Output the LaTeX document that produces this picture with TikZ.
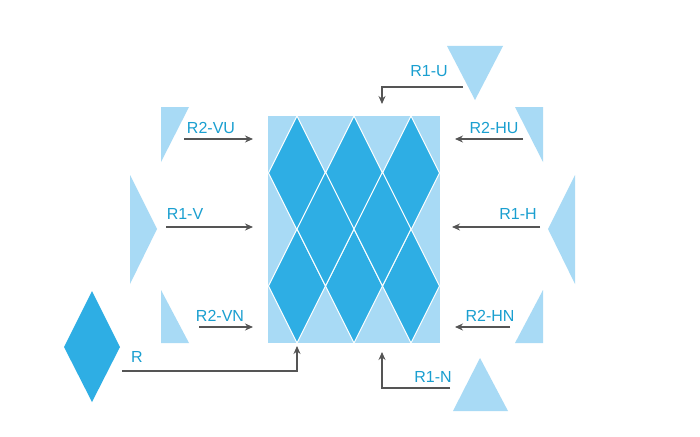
\documentclass[tikz,border=0pt]{standalone}
\usepackage{fontspec}
\setmainfont{Liberation Sans}
\usetikzlibrary{arrows.meta}
\definecolor{dk}{HTML}{2EAEE4}
\definecolor{lt}{HTML}{A8DAF5}
\definecolor{tx}{HTML}{1A9FD0}
\definecolor{ar}{HTML}{555555}
\begin{document}
\begin{tikzpicture}[x=1pt,y=-1pt,
  lbl/.style={text=tx,font=\fontsize{16}{18}\selectfont,inner sep=0pt},
  arr/.style={draw=ar,line width=1.1pt,-{Stealth[length=8pt,width=7pt]}},
  dia/.style={fill=dk,draw=white,line width=1pt}]
\useasboundingbox (0,0) rectangle (700,436);
\fill[white] (0,0) rectangle (700,436);
% central block
\fill[lt] (268,116) rectangle (440,343);
\coordinate (blk) at (354,229);
\foreach \cx in {297,354,411}{
  \foreach \cy in {173,286}{
    \draw[dia] (\cx,\cy-57) -- (\cx+28.5,\cy) -- (\cx,\cy+57) -- (\cx-28.5,\cy) -- cycle;}}
\foreach \cx in {325.5,382.5}{
  \draw[dia] (\cx,172) -- (\cx+28.5,229) -- (\cx,286) -- (\cx-28.5,229) -- cycle;}
% left triangles
\fill[lt] (161,107) -- (189,107) -- (161,162) -- cycle;
\fill[lt] (130,175) -- (157,229) -- (130,284) -- cycle;
\fill[lt] (161,290) -- (189,343) -- (161,343) -- cycle;
\fill[dk] (92,291) -- (120,347) -- (92,402) -- (64,347) -- cycle;
% right triangles
\fill[lt] (515,107) -- (543,107) -- (543,162) -- cycle;
\fill[lt] (575,175) -- (548,229) -- (575,284) -- cycle;
\fill[lt] (543,290) -- (543,343) -- (515,343) -- cycle;
\fill[lt] (447,46) -- (503,46) -- (475,100) -- cycle;
\fill[lt] (453,411) -- (508,411) -- (480,358) -- cycle;
% anchors
\coordinate (vu0) at (184,139); \coordinate (vu1) at (253,139);
\coordinate (v0) at (166,227); \coordinate (v1) at (253,227);
\coordinate (vn0) at (199,327); \coordinate (vn1) at (253,327);
\coordinate (r0) at (122,371); \coordinate (r1) at (297,346);
\coordinate (hu0) at (523,139); \coordinate (hu1) at (455,139);
\coordinate (h0) at (540,227); \coordinate (h1) at (452,227);
\coordinate (hn0) at (510,327); \coordinate (hn1) at (455,327);
\coordinate (u0) at (463,87); \coordinate (u1) at (382,104);
\coordinate (n0) at (450,388); \coordinate (n1) at (382,352);
\draw[arr] (vu0) -- (vu1);
\draw[arr] (v0) -- (v1);
\draw[arr] (vn0) -- (vn1);
\draw[arr] (r0) -| (r1);
\draw[arr] (hu0) -- (hu1);
\draw[arr] (h0) -- (h1);
\draw[arr] (hn0) -- (hn1);
\draw[arr] (u0) -| (u1);
\draw[arr] (n0) -| (n1);
% labels
\node[lbl] (lvu) at (211,128) {R2-VU};
\node[lbl] (lv) at (185,214) {R1-V};
\node[lbl] (lvn) at (220,316) {R2-VN};
\node[lbl] (lr) at (137,357) {R};
\node[lbl] (lhu) at (494,128) {R2-HU};
\node[lbl] (lh) at (518,214) {R1-H};
\node[lbl] (lhn) at (490,316) {R2-HN};
\node[lbl] (lu) at (429,71) {R1-U};
\node[lbl] (ln) at (433,377) {R1-N};
\end{tikzpicture}
\end{document}
